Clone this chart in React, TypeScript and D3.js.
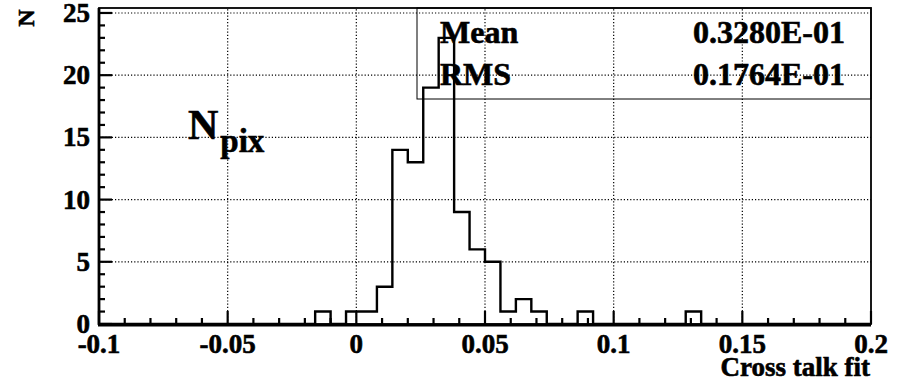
import { useEffect, useRef } from "react";
import * as d3 from "d3";

// histogram binning: 50 bins from -0.1 to 0.2
const binStart = -0.1;
const binEnd = 0.2;
const counts = [
  0, 0, 0, 0, 0, 0, 0, 0, 0, 0,
  0, 0, 0, 0, 1, 0, 1, 1, 3, 14,
  13, 19, 23, 9, 6, 5, 1, 2, 1, 0,
  0, 1, 0, 0, 0, 0, 0, 0, 1, 0,
  0, 0, 0, 0, 0, 0, 0, 0, 0, 0,
];
const xTicks = [-0.1, -0.05, 0, 0.05, 0.1, 0.15, 0.2];
const xTickLabels = ["-0.1", "-0.05", "0", "0.05", "0.1", "0.15", "0.2"];
const yTicks = [0, 5, 10, 15, 20, 25];
const statNames = ["Mean", "RMS"];
const statValues = ["0.3280E-01", "0.1764E-01"];

const FONT = "'Liberation Serif', 'Times New Roman', serif";

export default function App() {
  const svgRef = useRef<SVGSVGElement | null>(null);
  const width = 905;
  const height = 383;

  useEffect(() => {
    const svg = d3.select(svgRef.current);
    svg.selectAll("*").remove();

    const left = 99;
    const right = 871;
    const top = 8;
    const bottom = 324;

    const x = d3.scaleLinear().domain([binStart, binEnd]).range([left, right]);
    const y = d3.scaleLinear().domain([0, 25.4]).range([bottom, top]);

    // dotted grid
    const grid = svg.append("g").attr("stroke", "#000").attr("stroke-width", 1.2).attr("stroke-dasharray", "1.2,2");
    xTicks.slice(1, -1).forEach((t) => {
      grid.append("line").attr("x1", x(t)).attr("x2", x(t)).attr("y1", bottom).attr("y2", top);
    });
    yTicks.slice(1).forEach((t) => {
      grid.append("line").attr("x1", left).attr("x2", right).attr("y1", y(t)).attr("y2", y(t));
    });

    // histogram outline
    const bw = (binEnd - binStart) / counts.length;
    const pts = counts.map((c, i) => [binStart + i * bw, c] as [number, number]);
    pts.push([binEnd, counts[counts.length - 1]]);
    const line = d3
      .line<[number, number]>()
      .x((d) => x(d[0]))
      .y((d) => y(d[1]))
      .curve(d3.curveStepAfter);
    svg
      .append("path")
      .attr("d", line(pts))
      .attr("fill", "none")
      .attr("stroke", "#000")
      .attr("stroke-width", 2.4);

    // frame
    svg
      .append("rect")
      .attr("x", left)
      .attr("y", top)
      .attr("width", right - left)
      .attr("height", bottom - top)
      .attr("fill", "none")
      .attr("stroke", "#000")
      .attr("stroke-width", 1.8);
    svg.append("line").attr("x1", left).attr("x2", left).attr("y1", top).attr("y2", bottom + 1).attr("stroke", "#000").attr("stroke-width", 2.8);
    svg.append("line").attr("x1", left - 1).attr("x2", right).attr("y1", bottom + 1).attr("y2", bottom + 1).attr("stroke", "#000").attr("stroke-width", 2.8);

    // ticks
    const ticks = svg.append("g").attr("stroke", "#000").attr("stroke-width", 2.2);
    d3.range(0, 31).forEach((i) => {
      const v = binStart + i * 0.01;
      const major = i % 5 === 0;
      ticks.append("line").attr("x1", x(v)).attr("x2", x(v)).attr("y1", bottom).attr("y2", bottom - (major ? 13 : 6));
    });
    d3.range(0, 26).forEach((v) => {
      const major = v % 5 === 0;
      ticks.append("line").attr("x1", left).attr("x2", left + (major ? 13 : 6)).attr("y1", y(v)).attr("y2", y(v));
    });

    const text = svg
      .append("g")
      .attr("font-family", FONT)
      .attr("font-weight", "bold")
      .attr("fill", "#000")
      .attr("stroke", "#000")
      .attr("stroke-width", 0.6);

    // tick labels
    xTicks.forEach((t, i) => {
      text.append("text").attr("x", x(t)).attr("y", 353).attr("text-anchor", "middle").attr("font-size", 27).text(xTickLabels[i]);
    });
    yTicks.forEach((t) => {
      text.append("text").attr("x", 90).attr("y", y(t) + 9).attr("text-anchor", "end").attr("font-size", 27).text(String(t));
    });

    // axis titles
    text.append("text").attr("x", right - 1).attr("y", 376).attr("text-anchor", "end").attr("font-size", 27).text("Cross talk fit");
    text
      .append("text")
      .attr("transform", "translate(34,18) rotate(-90)")
      .attr("text-anchor", "middle")
      .attr("font-size", 24)
      .text("N");

    // N_pix label
    const np = text.append("text").attr("x", 188).attr("y", 139);
    np.append("tspan").attr("font-size", 42).text("N");
    np.append("tspan").attr("font-size", 33).attr("dx", 2).attr("dy", 13).text("pix");

    // stats box
    svg
      .append("rect")
      .attr("x", 417)
      .attr("y", top)
      .attr("width", right - 417)
      .attr("height", 91)
      .attr("fill", "none")
      .attr("stroke", "#000")
      .attr("stroke-width", 1);
    statNames.forEach((n, i) => {
      text.append("text").attr("x", 440).attr("y", 43 + i * 42).attr("font-size", 32).text(n);
      text.append("text").attr("x", 845).attr("y", 43 + i * 42).attr("text-anchor", "end").attr("font-size", 32).text(statValues[i]);
    });
  }, []);

  return (
    <svg
      ref={svgRef}
      width={width}
      height={height}
      style={{ position: "absolute", left: 0, top: 0, background: "#fff" }}
    />
  );
}
